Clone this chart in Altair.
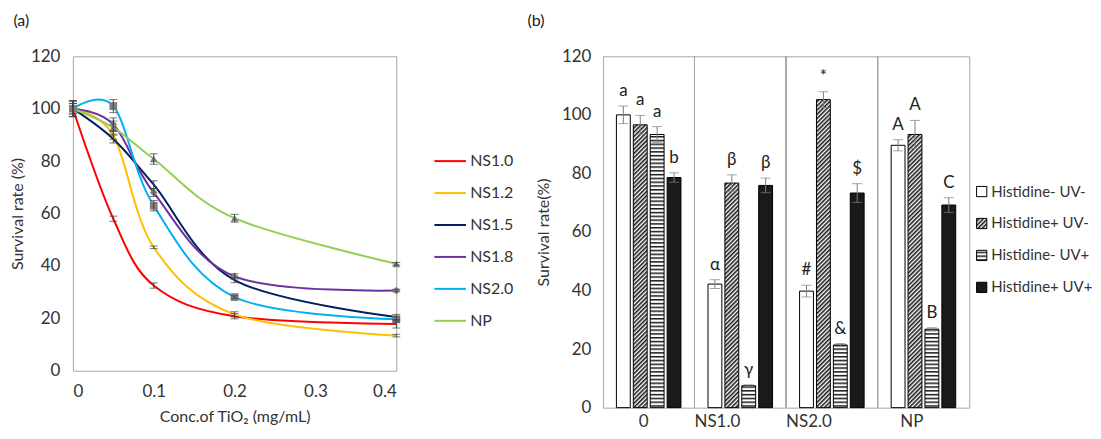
import altair as alt
import pandas as pd

# ---------------- data: panel (a) ----------------
conc = [0, 0.05, 0.1, 0.2, 0.4]
series_a = ["NS1.0", "NS1.2", "NS1.5", "NS1.8", "NS2.0", "NP"]
colors_a = ["#FF0000", "#FFC000", "#002060", "#7030A0", "#00B0F0", "#92D050"]
ns10 = [100, 58, 32.5, 20.8, 17.8]
ns12 = [100, 89.8, 47.1, 21.5, 13.4]
ns15 = [100, 88.4, 71.0, 34.6, 20.5]
ns18 = [100, 94.0, 68.0, 36.0, 30.6]
ns20 = [100, 101.0, 63.0, 28.1, 19.6]
np_a = [100, 92.8, 80.8, 58.2, 40.8]
err10 = [3, 1, 1, 1, 1.5]
err12 = [3, 1.5, 0.5, 1, 0.5]
err15 = [3, 1.5, 1.5, 1, 1]
err18 = [2, 2.5, 1.5, 1, 0.5]
err20 = [2, 2.5, 2, 0.5, 1]
errnp = [3, 2.5, 2, 1.5, 0.5]
marker_series = ["NS1.8", "NS2.0", "NP"]
marker_shapes = ["diamond", "square", "triangle-up"]

# ---------------- data: panel (b) ----------------
groups = ["0", "NS1.0", "NS2.0", "NP"]
treatments = ["Histidine- UV-", "Histidine+ UV-", "Histidine- UV+", "Histidine+ UV+"]
vals_0 = [100, 96.6, 93.3, 78.6]
vals_ns10 = [42.2, 76.7, 7.5, 75.9]
vals_ns20 = [39.8, 105.2, 21.4, 73.3]
vals_np = [89.6, 93.3, 26.8, 69.2]
errs_0 = [3, 3.2, 2.7, 1.6]
errs_ns10 = [1.5, 2.8, 0.3, 2.5]
errs_ns20 = [2, 2.7, 0.5, 3.2]
errs_np = [1.9, 4.8, 0.5, 2.5]
labs_0 = ["a", "a", "a", "b"]
labs_ns10 = ["α", "β", "γ", "β"]
labs_ns20 = ["#", "*", "&", "$"]
labs_np = ["A", "A", "B", "C"]
fills_b = ["white", "url(#diag)", "url(#horiz)", "#1a1a1a"]

FONT = "Lato"
TXT = "#333333"
FRAME = "#A6A6A6"

# ---------- SVG pattern definitions for the hatched fills ----------
DEFS = (
    '<svg width="0" height="0" style="position:absolute;width:0;height:0" aria-hidden="true">'
    '<defs>'
    '<pattern id="diag" patternUnits="userSpaceOnUse" width="3" height="3" patternTransform="rotate(45)">'
    '<rect width="3" height="3" fill="white"/>'
    '<line x1="0.8" y1="0" x2="0.8" y2="3" stroke="#1a1a1a" stroke-width="1.6"/>'
    '</pattern>'
    '<pattern id="horiz" patternUnits="userSpaceOnUse" width="4" height="3.8">'
    '<rect width="4" height="3.8" fill="white"/>'
    '<rect width="4" height="1.5" fill="#1a1a1a"/>'
    '</pattern>'
    '</defs></svg>'
)
try:
    import altair.utils.html as _h
    _orig = _h.TEMPLATES["standard"]

    class _PatchedTemplate:
        def render(self, *a, **k):
            html = _orig.render(*a, **k)
            if "</body>" in html:
                return html.replace("</body>", DEFS + "</body>", 1)
            return html + DEFS

    _h.TEMPLATES["standard"] = _PatchedTemplate()
except Exception:
    pass

# ---------------- build tables ----------------
rows = []
for name, vals, errs in zip(series_a, [ns10, ns12, ns15, ns18, ns20, np_a],
                            [err10, err12, err15, err18, err20, errnp]):
    for c, v, e in zip(conc, vals, errs):
        rows.append({"series": name, "conc": c, "rate": v, "lo": v - e, "hi": v + e})
df_a = pd.DataFrame(rows)

rows = []
for g, vals, errs, labs in zip(groups, [vals_0, vals_ns10, vals_ns20, vals_np],
                               [errs_0, errs_ns10, errs_ns20, errs_np],
                               [labs_0, labs_ns10, labs_ns20, labs_np]):
    for t, v, e, l in zip(treatments, vals, errs, labs):
        rows.append({"group": g, "treat": t, "rate": v, "lo": v - e, "hi": v + e, "lab": l})
df_b = pd.DataFrame(rows)

# ---------------- panel (a) ----------------
xa = alt.X("conc:Q", scale=alt.Scale(domain=[0, 0.4], nice=False),
           axis=alt.Axis(values=[0, 0.1, 0.2, 0.3, 0.4], format="~g", title="Conc.of TiO₂ (mg/mL)",
                         grid=False, ticks=False, domain=False, labelPadding=13, titlePadding=9))
ya = alt.Y("rate:Q", scale=alt.Scale(domain=[0, 120], nice=False),
           axis=alt.Axis(values=[0, 20, 40, 60, 80, 100, 120], title="Survival rate (%)",
                         grid=False, ticks=False, domain=False, labelPadding=13, titlePadding=5))

base_a = alt.Chart(df_a)
lines = base_a.mark_line(interpolate="cardinal", strokeWidth=2).encode(
    x=xa, y=ya,
    color=alt.Color("series:N", sort=series_a,
                    scale=alt.Scale(domain=series_a, range=colors_a),
                    legend=alt.Legend(title=None, orient="none", legendX=361, legendY=88,
                                      symbolType="stroke", symbolStrokeWidth=2, symbolSize=1000,
                                      labelFontSize=16, labelFont=FONT, labelColor=TXT,
                                      rowPadding=7, labelOffset=3)),
    order=alt.Order("conc:Q"),
)
err_a = base_a.mark_rule(color="#404040", strokeWidth=1).encode(x="conc:Q", y="lo:Q", y2="hi:Q")
cap_lo = base_a.mark_tick(orient="horizontal", size=8, thickness=1, color="#404040").encode(x="conc:Q", y="lo:Q")
cap_hi = base_a.mark_tick(orient="horizontal", size=8, thickness=1, color="#404040").encode(x="conc:Q", y="hi:Q")
pts = base_a.transform_filter(
    alt.FieldOneOfPredicate(field="series", oneOf=marker_series)
).mark_point(filled=True, opacity=1, color="#7F7F7F", size=60).encode(
    x="conc:Q", y="rate:Q",
    shape=alt.Shape("series:N", scale=alt.Scale(domain=marker_series, range=marker_shapes), legend=None),
)
panel_a = alt.layer(lines, pts, err_a, cap_lo, cap_hi).properties(
    width=324, height=315,
    title=alt.TitleParams("(a)", anchor="start", frame="bounds", fontSize=16, font=FONT,
                          fontWeight="normal", color="#222", offset=18, dx=4),
)

# ---------------- panel (b) ----------------
xb = alt.X("group:N", sort=groups, scale=alt.Scale(paddingInner=0, paddingOuter=0),
           axis=alt.Axis(title=None, labelAngle=0, ticks=False, domain=False, grid=False,
                         labelPadding=14))
yb = alt.Y("rate:Q", scale=alt.Scale(domain=[0, 120], nice=False),
           axis=alt.Axis(values=[0, 20, 40, 60, 80, 100, 120], title="Survival rate(%)",
                         grid=False, ticks=False, domain=False, labelPadding=12, titlePadding=10))
xo = alt.XOffset("treat:N", sort=treatments, scale=alt.Scale(paddingInner=0.18, paddingOuter=0.8))

base_b = alt.Chart(df_b)
seps = base_b.transform_filter(alt.datum.group != groups[0]).mark_rule(color=FRAME, strokeWidth=1).encode(
    x=alt.X("group:N", sort=groups, bandPosition=0)
)
bars = base_b.mark_bar(stroke="black", strokeWidth=1).encode(
    x=xb, xOffset=xo, y=yb,
    fill=alt.Fill("treat:N", sort=treatments,
                  scale=alt.Scale(domain=treatments, range=fills_b),
                  legend=alt.Legend(title=None, orient="none", legendX=903, legendY=128,
                                    symbolType="square", symbolSize=105, symbolStrokeColor="black",
                                    symbolStrokeWidth=1, labelFontSize=15, labelFont=FONT,
                                    labelColor=TXT, rowPadding=16, labelOffset=2)),
)
err_b = base_b.mark_rule(color="#7F7F7F", strokeWidth=1).encode(x=xb, xOffset=xo, y="lo:Q", y2="hi:Q")
capb_lo = base_b.mark_tick(orient="horizontal", size=10, thickness=1, color="#7F7F7F").encode(
    x=xb, xOffset=xo, y="lo:Q")
capb_hi = base_b.mark_tick(orient="horizontal", size=10, thickness=1, color="#7F7F7F").encode(
    x=xb, xOffset=xo, y="hi:Q")
labels = base_b.mark_text(baseline="alphabetic", dy=-10, fontSize=17, font=FONT, color="#222").encode(
    x=xb, xOffset=xo, y="hi:Q", text="lab:N")
panel_b = alt.layer(seps, bars, err_b, capb_lo, capb_hi, labels).properties(
    width=367, height=352,
    title=alt.TitleParams("(b)", anchor="start", frame="bounds", fontSize=16, font=FONT,
                          fontWeight="normal", color="#222", offset=18, dx=-8),
)

chart = alt.hconcat(panel_a, panel_b, spacing=125).properties(
    padding={"left": 0, "top": 4, "right": 0, "bottom": 0}
).configure(font=FONT).configure_view(stroke=FRAME, strokeWidth=1).configure_axis(
    labelFont=FONT, labelFontSize=17, labelColor=TXT, titleFont=FONT, titleFontSize=16,
    titleColor=TXT, titleFontWeight="normal"
)

chart.save("out.html", embed_options={"renderer": "svg", "actions": False})
